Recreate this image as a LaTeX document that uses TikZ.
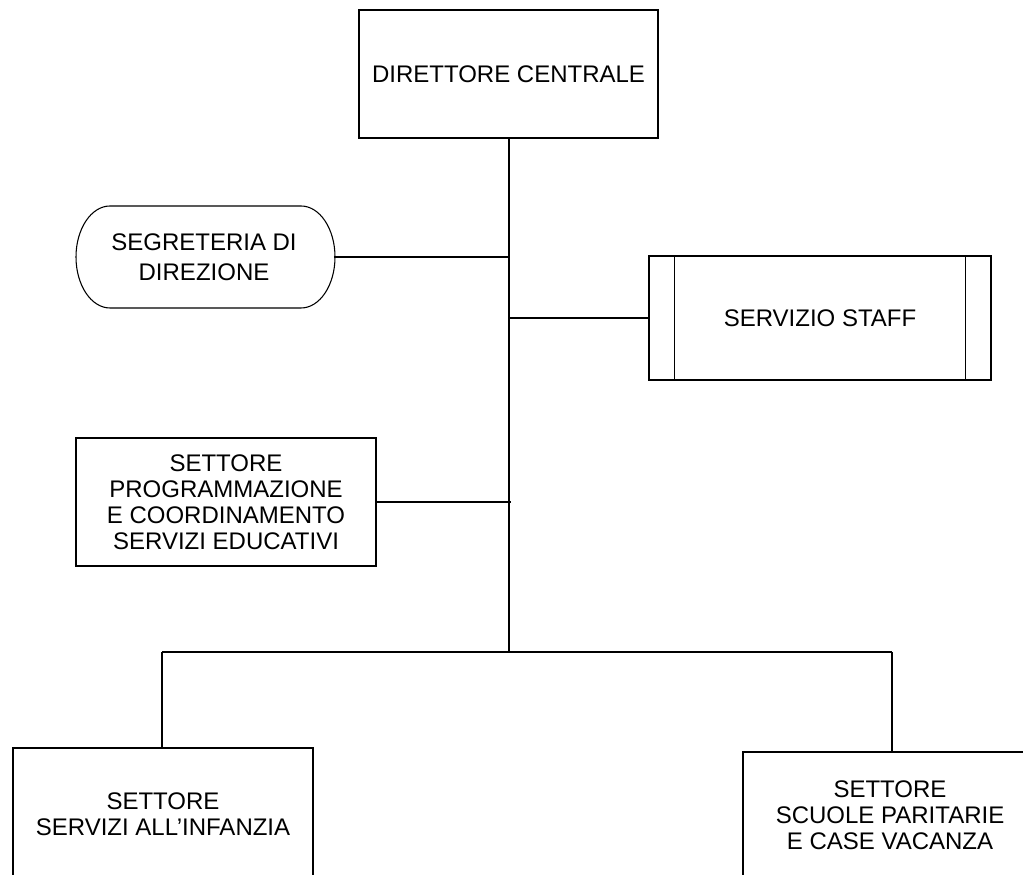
\documentclass[tikz,border=0pt]{standalone}
\usepackage{fontspec}
\setmainfont{Liberation Sans}
\begin{document}
\begin{tikzpicture}[x=0.75pt,y=0.75pt,
  every node/.style={font=\fontsize{18}{19.5}\selectfont, align=center, inner sep=0pt},
  box/.style={draw, line width=0.8pt, rectangle},
  conn/.style={line width=0.8pt}]
\useasboundingbox (0,0) rectangle (1023,874);
\clip (0,0) rectangle (1023,874);
% nodes
\node[box, minimum width=224.25pt, minimum height=96pt] (dir) at (508.5,800) {DIRETTORE CENTRALE};
\node[minimum width=194.25pt, minimum height=76.5pt, font=\fontsize{18}{22.5}\selectfont] (seg) at (204,617) {SEGRETERIA DI\\DIREZIONE};
\draw[line width=0.8pt] (110,668) -- (301,668) arc[start angle=90, end angle=-90, x radius=25.5pt, y radius=38.25pt]
  -- (110,566) arc[start angle=270, end angle=90, x radius=25.5pt, y radius=38.25pt] -- cycle;
\node[box, minimum width=256.5pt, minimum height=93pt] (staff) at (820,556) {SERVIZIO STAFF};
\draw[line width=0.8pt] ([xshift=19.5pt]staff.north west) -- ([xshift=19.5pt]staff.south west);
\draw[line width=0.8pt] ([xshift=-19.5pt]staff.north east) -- ([xshift=-19.5pt]staff.south east);
\node[box, minimum width=225pt, minimum height=96pt] (prog) at (226,372) {SETTORE\\PROGRAMMAZIONE\\E COORDINAMENTO\\SERVIZI EDUCATIVI};
\node[box, minimum width=225pt, minimum height=99pt] (inf) at (163,60) {SETTORE\\SERVIZI ALL'INFANZIA};
\node[box, minimum width=220.5pt, minimum height=94.5pt] (scu) at (890,59) {SETTORE\\SCUOLE PARITARIE\\E CASE VACANZA};
% connectors
\coordinate (bus) at (509,222);
\coordinate (busL) at (162,222);
\coordinate (busR) at (892,222);
\draw[conn] (dir.south -| bus) -- (bus);
\draw[conn] (seg.east) -- (seg.east -| bus);
\draw[conn] (staff.west) -- (staff.west -| bus);
\draw[conn] (prog.east) -- ([xshift=1.5pt]prog.east -| bus);
\draw[conn] (busL) -- (busR);
\draw[conn] (busL) -- (busL |- inf.north);
\draw[conn] (busR) -- (busR |- scu.north);
\end{tikzpicture}
\end{document}
